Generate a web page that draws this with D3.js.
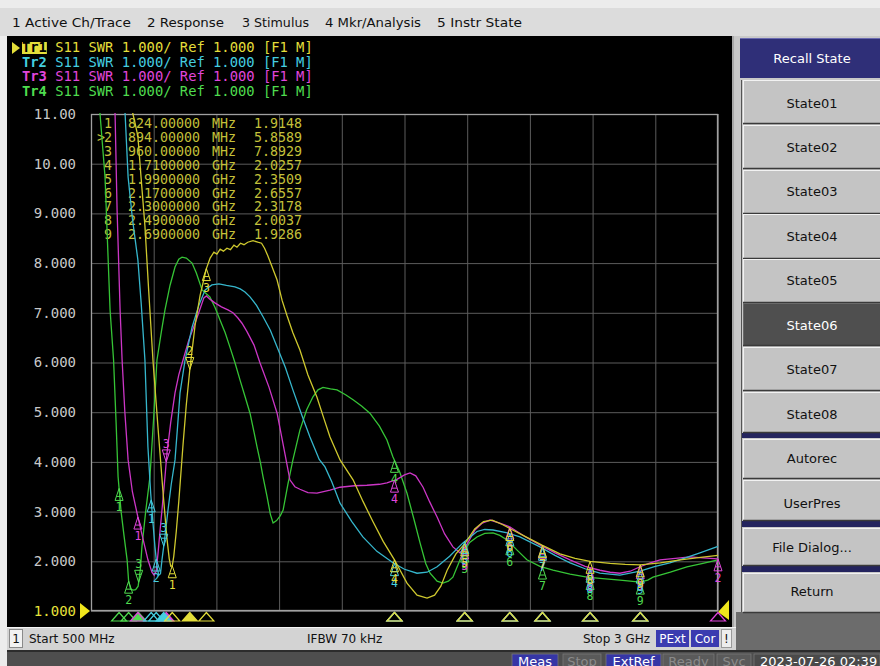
<!DOCTYPE html>
<html><head><meta charset="utf-8">
<script src="https://cdn.jsdelivr.net/npm/d3@7"></script>
<style>body{margin:0;background:#fff;}svg{display:block;}</style>
</head><body>
<script>
// ---------------- DATA ----------------
const menuItems = ["1 Active Ch/Trace","2 Response","3 Stimulus","4 Mkr/Analysis","5 Instr State"];
const traceHeaders = [
  "Tr1 S11 SWR 1.000/ Ref 1.000 [F1 M]",
  "Tr2 S11 SWR 1.000/ Ref 1.000 [F1 M]",
  "Tr3 S11 SWR 1.000/ Ref 1.000 [F1 M]",
  "Tr4 S11 SWR 1.000/ Ref 1.000 [F1 M]"];
const xGridMHz = [500,750,1000,1250,1500,1750,2000,2250,2500,2750,3000];
const yTickValues = [1,2,3,4,5,6,7,8,9,10,11];
const yTickLabels = ["1.000","2.000","3.000","4.000","5.000","6.000","7.000","8.000","9.000","10.00","11.00"];

// Marker table of active trace (Tr1)
const mkrNumbers = ["1","2","3","4","5","6","7","8","9"];
const mkrFreqText = ["824.00000","894.00000","960.00000","1.7100000","1.9900000","2.1700000","2.3000000","2.4900000","2.6900000"];
const mkrUnitText = ["MHz","MHz","MHz","GHz","GHz","GHz","GHz","GHz","GHz"];
const mkrValueText = ["1.9148","5.8589","7.8929","2.0257","2.3509","2.6557","2.3178","2.0037","1.9286"];

// Tr1 (yellow) SWR vs frequency (MHz)
const tr1Freq = [500,655,667,672,687,700,715,730,747,767,787,803,812,818,824,830,840,850,867,880,894,915,935,960,975,990,1002,1015,1028,1042,1056,1070,1082,1096,1110,1125,1146,1165,1180,1192,1205,1220,1242,1262,1281,1305,1333,1365,1401,1430,1453,1493,1545,1585,1624,1665,1710,1760,1800,1840,1870,1895,1920,1955,1990,2030,2065,2100,2140,2170,2238,2300,2370,2430,2490,2570,2630,2690,2770,2850,2930,3000];
const tr1Swr  = [14,11.4,11.0,10.9,10.55,9.7,8.75,7.45,6.05,4.7,3.4,2.45,2.05,1.9,1.91,2.1,2.6,3.2,4.35,5.15,5.86,6.75,7.35,7.89,8.1,8.22,8.18,8.28,8.24,8.3,8.27,8.36,8.32,8.4,8.37,8.42,8.45,8.42,8.4,8.3,8.15,7.95,7.66,7.25,6.95,6.6,6.25,5.75,5.3,4.85,4.5,4.04,3.64,3.2,2.8,2.4,2.03,1.56,1.32,1.26,1.32,1.5,1.82,2.15,2.35,2.65,2.8,2.83,2.74,2.66,2.48,2.32,2.15,2.06,2.0,1.96,1.94,1.93,1.97,2.03,2.08,2.12];
// Tr2 (cyan)
const tr2Freq = [500,630,636,648,665,687,700,715,727,738,745,755,763,770,777,783,795,807,820,835,845,855,875,903,930,955,982,1010,1040,1074,1095,1114,1134,1160,1186,1215,1242,1275,1305,1340,1373,1410,1433,1460,1493,1540,1584,1640,1704,1750,1800,1840,1880,1930,1983,2039,2070,2103,2160,2210,2290,2350,2410,2470,2529,2609,2689,2750,2808,2870,2928,3000];
const tr2Swr  = [14,11.4,11.0,9.73,8.9,8.06,7.2,6.05,4.3,3.37,2.9,2.29,1.9,1.72,1.75,2.03,2.5,3.03,3.55,4.04,4.7,5.39,6.05,6.71,7.15,7.46,7.56,7.58,7.55,7.52,7.48,7.42,7.32,7.15,6.92,6.65,6.31,5.9,5.45,4.95,4.5,4.05,3.9,3.6,3.17,2.8,2.49,2.2,1.97,1.84,1.76,1.78,1.89,2.1,2.37,2.6,2.64,2.63,2.57,2.49,2.29,2.12,1.97,1.85,1.76,1.72,1.8,1.9,1.97,2.07,2.17,2.3];
// Tr3 (magenta)
const tr3Freq = [500,590,596,604,616,624,635,648,665,687,705,727,743,752,760,768,775,783,795,803,818,835,850,867,890,915,935,950,960,975,994,1020,1046,1066,1085,1102,1122,1150,1174,1210,1242,1268,1293,1313,1333,1365,1401,1453,1493,1550,1600,1650,1680,1720,1750,1772,1795,1824,1850,1880,1910,1943,1971,2000,2031,2060,2091,2130,2171,2230,2290,2350,2410,2470,2529,2570,2609,2650,2689,2730,2769,2830,2888,2940,3000];
const tr3Swr  = [14,11.4,11.0,9.07,7.06,6.05,5.0,4.04,3.4,2.89,2.5,2.03,1.78,1.72,1.8,2.2,2.6,3.03,3.7,4.18,4.8,5.39,5.75,6.05,6.45,6.79,7.08,7.3,7.34,7.27,7.2,7.12,7.06,7.0,6.9,6.79,6.62,6.35,5.99,5.5,4.98,4.3,3.64,3.5,3.45,3.38,3.37,3.43,3.49,3.52,3.53,3.55,3.58,3.65,3.74,3.78,3.72,3.49,3.2,2.89,2.55,2.29,2.17,2.35,2.63,2.77,2.83,2.77,2.69,2.5,2.33,2.17,2.03,1.9,1.82,1.78,1.76,1.8,1.89,1.97,2.03,2.06,2.09,2.07,2.05];
// Tr4 (green)
const tr4Freq = [500,530,536,556,576,590,600,608,620,632,644,650,658,668,678,688,697,703,718,735,750,763,780,795,815,835,850,863,880,903,920,943,974,995,1014,1035,1054,1075,1094,1115,1134,1150,1162,1175,1186,1202,1215,1226,1240,1255,1266,1285,1305,1333,1360,1385,1405,1425,1455,1481,1515,1545,1580,1612,1650,1680,1704,1732,1760,1790,1812,1835,1852,1880,1903,1925,1943,1965,1983,2010,2039,2070,2103,2130,2159,2200,2238,2290,2342,2410,2478,2540,2609,2650,2689,2720,2741,2810,2876,2940,3000];
const tr4Swr  = [12,11.4,11.0,9.73,7.06,6.05,4.8,3.7,3.0,2.5,2.03,1.6,1.44,1.42,1.43,1.5,1.85,2.29,3.0,3.7,4.9,6.05,6.6,7.06,7.55,7.92,8.08,8.12,8.1,8.0,7.8,7.46,7.32,7.1,6.86,6.6,6.31,5.98,5.65,5.3,4.98,4.6,4.3,4.0,3.7,3.3,2.95,2.77,2.82,2.92,3.03,3.55,4.04,4.64,5.05,5.31,5.45,5.5,5.47,5.45,5.35,5.25,5.12,4.98,4.72,4.44,4.1,3.78,3.37,2.8,2.37,1.95,1.76,1.6,1.56,1.6,1.68,1.95,2.17,2.38,2.49,2.56,2.57,2.52,2.43,2.22,2.03,1.9,1.82,1.74,1.68,1.65,1.62,1.6,1.58,1.62,1.68,1.78,1.89,1.96,2.03];

// Marker frequencies (MHz) per trace, and label side (b = below, a = above)
const tr1MkrFreq = [824,894,960,1710,1990,2170,2300,2490,2690];
const tr1MkrSide = ["b","a","b","b","b","b","b","b","b"];
const tr2MkrFreq = [740,760,790,1710,1990,2170,2300,2490,2690];
const tr2MkrSide = ["b","b","a","b","b","b","b","b","b"];
const tr3MkrFreq = [687,3000,800,1710,1990,2170,2300,2490,2690];
const tr3MkrSide = ["b","b","a","b","b","b","b","b","b"];
const tr4MkrFreq = [612,650,690,1710,1990,2170,2300,2490,2690];
const tr4MkrSide = ["b","b","a","b","b","b","b","b","b"];

const statusLeft = ["1","Start 500 MHz","IFBW 70 kHz","Stop 3 GHz","PExt","Cor","!"];
const bottomItems = ["Meas","Stop","ExtRef","Ready","Svc","2023-07-26 02:39"];
const softkeys = ["State01","State02","State03","State04","State05","State06","State07","State08","Autorec","UserPres","File Dialog...","Return"];

// ---------------- DRAWING ----------------
const W = 880, H = 666;
const svg = d3.select("body").append("svg").attr("width", W).attr("height", H);
const SANS = "DejaVu Sans, Verdana, sans-serif";
const MONO = "DejaVu Sans Mono, Liberation Mono, monospace";

// window background
svg.append("rect").attr("width", W).attr("height", H).attr("fill", "#ececec");
// menu bar
svg.append("rect").attr("x",0).attr("y",8).attr("width",W).attr("height",28).attr("fill","#dcdcdc");
const menuX = [12,147,242,325,437], menuW = [119,77,67,96,85];
svg.selectAll("text.menu").data(menuItems).join("text").attr("class","menu")
  .attr("x",(d,i)=>menuX[i]).attr("y",27).attr("textLength",(d,i)=>menuW[i])
  .attr("lengthAdjust","spacingAndGlyphs")
  .attr("font-family",SANS).attr("font-size",13).attr("fill","#111").text(d=>d);

// black measurement window
svg.append("rect").attr("x",7).attr("y",36).attr("width",725).attr("height",591).attr("fill","#000");
svg.append("rect").attr("x",732).attr("y",36).attr("width",4).attr("height",591).attr("fill","#c8c8c8");
svg.append("line").attr("x1",733).attr("x2",733).attr("y1",36).attr("y2",627).attr("stroke","#888");

// trace header lines
const trColors = ["#e4de3a","#45cfe0","#e046dc","#4fdc4f"];
const lineCols = ["#cec82e","#36b6cc","#cc36c6","#36c436"];
const hdrY = [52,66.5,81,95.5];
const CW = 8.29;
traceHeaders.forEach((t,i)=>{
  if(i===0){
    svg.append("rect").attr("x",22).attr("y",hdrY[0]-10).attr("width",3*CW).attr("height",12).attr("fill",trColors[0]);
    svg.append("path").attr("d",`M12,${hdrY[0]-10} L20,${hdrY[0]-4} L12,${hdrY[0]+2} Z`).attr("fill",trColors[0]);
  }
  const tx = svg.append("text").attr("x",22).attr("y",hdrY[i]).attr("font-family",MONO)
    .attr("font-size",13.8).attr("xml:space","preserve");
  tx.append("tspan").attr("fill", i===0 ? "#000" : trColors[i]).attr("font-weight","bold").text(t.slice(0,3));
  tx.append("tspan").attr("fill",trColors[i]).text(t.slice(3));
});

// scales
const x = d3.scaleLinear().domain([500,3000]).range([91,718]);
const y = d3.scaleLinear().domain([1,11]).range([611,114]);

// grid via axes
const gx = svg.append("g").attr("transform","translate(0,611)")
  .call(d3.axisBottom(x).tickValues(xGridMHz).tickSize(-(611-114)).tickFormat(""));
gx.select(".domain").remove();
gx.selectAll("line").attr("stroke","#5c5c5c").attr("stroke-width",1);

const gy = svg.append("g").attr("transform","translate(91,0)")
  .call(d3.axisLeft(y).tickValues(yTickValues).tickSize(-(718-91)).tickPadding(15)
        .tickFormat((d,i)=>yTickLabels[i]));
gy.select(".domain").remove();
gy.selectAll("line").attr("stroke","#5c5c5c").attr("stroke-width",1);
gy.selectAll("text").attr("font-family",MONO).attr("font-size",14)
  .attr("fill",(d)=> d===1 ? "#e8e23a" : "#c9c9c9");

// plot frame
svg.append("rect").attr("x",91.5).attr("y",114.5).attr("width",718-91-1).attr("height",611-114-1)
  .attr("fill","none").attr("stroke","#a0a0a0").attr("stroke-width",1.3);

// reference level triangles
svg.append("path").attr("d","M80,603 L90,611 L80,619 Z").attr("fill","#f0e61c");
svg.append("path").attr("d","M729,600 L729,620 L718,612 Z").attr("fill","#f0e61c");

// marker table
const tblY = mkrNumbers.map((d,i)=>128 + i*13.9);
const tcol = "#c4c03a";
const tbl = svg.append("g").attr("font-family",MONO).attr("font-size",13.3).attr("fill",tcol);
tbl.selectAll("text.n").data(mkrNumbers).join("text").attr("class","n")
  .attr("x",112).attr("y",(d,i)=>tblY[i]).attr("text-anchor","end").text(d=>d);
tbl.append("text").attr("x",97).attr("y",tblY[1]).text(">");
tbl.selectAll("text.f").data(mkrFreqText).join("text").attr("class","f")
  .attr("x",128).attr("y",(d,i)=>tblY[i]).text(d=>d);
tbl.selectAll("text.u").data(mkrUnitText).join("text").attr("class","u")
  .attr("x",212).attr("y",(d,i)=>tblY[i]).text(d=>d);
tbl.selectAll("text.v").data(mkrValueText).join("text").attr("class","v")
  .attr("x",254).attr("y",(d,i)=>tblY[i]).text(d=>d);

// traces
svg.append("clipPath").attr("id","plotclip").append("rect")
  .attr("x",91).attr("y",113).attr("width",628).attr("height",499);
const line = d3.line().x(d=>x(d[0])).y(d=>y(d[1]));
const traces = [
  {f:tr4Freq, v:tr4Swr, c:3, mf:tr4MkrFreq, ms:tr4MkrSide},
  {f:tr3Freq, v:tr3Swr, c:2, mf:tr3MkrFreq, ms:tr3MkrSide},
  {f:tr2Freq, v:tr2Swr, c:1, mf:tr2MkrFreq, ms:tr2MkrSide},
  {f:tr1Freq, v:tr1Swr, c:0, mf:tr1MkrFreq, ms:tr1MkrSide}
];
const tg = svg.append("g").attr("clip-path","url(#plotclip)");
traces.forEach(t=>{
  tg.append("path").datum(d3.zip(t.f,t.v)).attr("d",line)
    .attr("fill","none").attr("stroke",lineCols[t.c]).attr("stroke-width",1.3);
});

function valAt(fs, vs, f){
  const i = Math.min(Math.max(d3.bisectLeft(fs,f),1),fs.length-1);
  const t = (f-fs[i-1])/(fs[i]-fs[i-1]);
  return vs[i-1] + t*(vs[i]-vs[i-1]);
}

// markers on traces
const mg = svg.append("g");
traces.forEach(t=>{
  const col = trColors[t.c];
  t.mf.forEach((f,k)=>{
    const px = x(f), py = y(valAt(t.f,t.v,f));
    const s = t.ms[k]==="b" ? 1 : -1;
    mg.append("path")
      .attr("d",`M${px},${py} L${px-4},${py+s*12} L${px+4},${py+s*12} Z M${px-2.5},${py+s*8} L${px+2.5},${py+s*8}`)
      .attr("fill","none").attr("stroke",col).attr("stroke-width",1);
    mg.append("text").attr("x",px).attr("y", s>0 ? py+23 : py-14)
      .attr("text-anchor","middle").attr("font-family",MONO).attr("font-size",11.5)
      .attr("fill",col).text(mkrNumbers[k]);
  });
});

// marker position indicators along bottom
const ig = svg.append("g");
traces.forEach(t=>{
  const col = trColors[t.c];
  t.mf.forEach((f,k)=>{
    const px = x(f);
    const filled = (t.c===0 && k===1) || (t.c!==0 && k===2);
    ig.append("path").attr("d",`M${px},612.5 L${px-7.5},621 L${px+7.5},621 Z`)
      .attr("fill", filled ? col : "none").attr("stroke",col).attr("stroke-width",1.2);
  });
});

// status bar
svg.append("rect").attr("x",7).attr("y",627).attr("width",729).attr("height",23).attr("fill","#d3d3d3");
svg.append("line").attr("x1",7).attr("x2",736).attr("y1",627.5).attr("y2",627.5).attr("stroke","#f4f4f4");
svg.append("rect").attr("x",9.5).attr("y",629.5).attr("width",13).attr("height",18).attr("fill","#f2f2f2").attr("stroke","#8a8a8a");
svg.append("text").attr("x",16).attr("y",643).attr("text-anchor","middle").attr("font-family",SANS).attr("font-size",12).attr("fill","#111").text(statusLeft[0]);
svg.append("text").attr("x",29).attr("y",643).attr("font-family",SANS).attr("font-size",12).attr("fill","#111").text(statusLeft[1]);
svg.append("text").attr("x",307).attr("y",643).attr("font-family",SANS).attr("font-size",12).attr("fill","#111").text(statusLeft[2]);
svg.append("text").attr("x",583).attr("y",643).attr("font-family",SANS).attr("font-size",12).attr("fill","#111").text(statusLeft[3]);
[[656,33,4],[691,28,5]].forEach(([bx,bw,i])=>{
  svg.append("rect").attr("x",bx).attr("y",630).attr("width",bw).attr("height",17).attr("fill","#3b3bb0");
  svg.append("text").attr("x",bx+bw/2).attr("y",643).attr("text-anchor","middle").attr("font-family",SANS)
    .attr("font-size",12).attr("fill","#fff").text(statusLeft[i]);
});
svg.append("rect").attr("x",721.5).attr("y",629.5).attr("width",10).attr("height",18).attr("fill","#ededed").attr("stroke","#999");
svg.append("text").attr("x",726.5).attr("y",643).attr("text-anchor","middle").attr("font-family",SANS).attr("font-size",12).attr("fill","#111").text(statusLeft[6]);

// bottom bar
svg.append("rect").attr("x",7).attr("y",650).attr("width",W-7).attr("height",16).attr("fill","#4e4e4e");
svg.append("rect").attr("x",7).attr("y",650).attr("width",W-7).attr("height",2).attr("fill","#2c2c2c");
const bX = [512,563,606,663,717,754], bWd = [46,38,55,51,34,126];
const bFill = ["#3636a6","#5a5a5a","#3636a6","#5a5a5a","#5a5a5a","#4a4a4a"];
const bTxt = ["#fff","#8a8a8a","#fff","#8a8a8a","#8a8a8a","#fff"];
bottomItems.forEach((t,i)=>{
  svg.append("rect").attr("x",bX[i]).attr("y",654).attr("width",bWd[i]).attr("height",14).attr("fill",bFill[i])
    .attr("stroke","#777").attr("stroke-width",0.8);
  svg.append("text").attr("x", i===5 ? 760 : bX[i]+bWd[i]/2).attr("y",665.5)
    .attr("text-anchor", i===5 ? "start" : "middle").attr("font-family",SANS).attr("font-size",13)
    .attr("fill",bTxt[i]).text(t);
});

// right softkey panel
svg.append("rect").attr("x",736).attr("y",36).attr("width",144).attr("height",614).attr("fill","#c9c9c9");
svg.append("rect").attr("x",736).attr("y",612).attr("width",144).attr("height",38).attr("fill","#6c6c6c");
svg.append("line").attr("x1",741.5).attr("x2",741.5).attr("y1",80).attr("y2",612).attr("stroke","#555");
svg.append("rect").attr("x",740).attr("y",38).attr("width",140).attr("height",40).attr("fill","#2f2f78");
svg.append("line").attr("x1",740).attr("x2",880).attr("y1",38.5).attr("y2",38.5).attr("stroke","#6a6ab0");
svg.append("text").attr("x",812).attr("y",63).attr("text-anchor","middle").attr("font-family",SANS)
  .attr("font-size",13).attr("fill","#fff").text("Recall State");
const keyTop = [80,125,170,214,259,303,347,392,439,480,528,573];
const keyBot = [123,168,213,258,302,345,390,432,478,520,565,612];
const keyTextY = [103,147,191,236,280,325,369,414,458,503,547,591];
// group separators
[[433,438],[521,527],[566,572]].forEach(([a,b])=>{
  svg.append("rect").attr("x",742).attr("y",a).attr("width",138).attr("height",b-a).attr("fill","#24245e");
});
softkeys.forEach((k,i)=>{
  const sel = i===5;
  svg.append("rect").attr("x",743).attr("y",keyTop[i]).attr("width",137).attr("height",keyBot[i]-keyTop[i])
    .attr("fill", sel ? "#4f4f4f" : "#c4c4c4");
  svg.append("line").attr("x1",743).attr("x2",880).attr("y1",keyTop[i]+0.5).attr("y2",keyTop[i]+0.5)
    .attr("stroke", sel ? "#6a6a6a" : "#f2f2f2");
  svg.append("line").attr("x1",743.5).attr("x2",743.5).attr("y1",keyTop[i]).attr("y2",keyBot[i])
    .attr("stroke", sel ? "#6a6a6a" : "#f2f2f2");
  svg.append("line").attr("x1",743).attr("x2",880).attr("y1",keyBot[i]+0.5).attr("y2",keyBot[i]+0.5)
    .attr("stroke","#3a3a3a").attr("stroke-width",1.5);
  svg.append("text").attr("x",812).attr("y",keyTextY[i]+5).attr("text-anchor","middle").attr("font-family",SANS)
    .attr("font-size",13).attr("fill", sel ? "#fff" : "#111").text(k);
});
</script>
</body></html>
